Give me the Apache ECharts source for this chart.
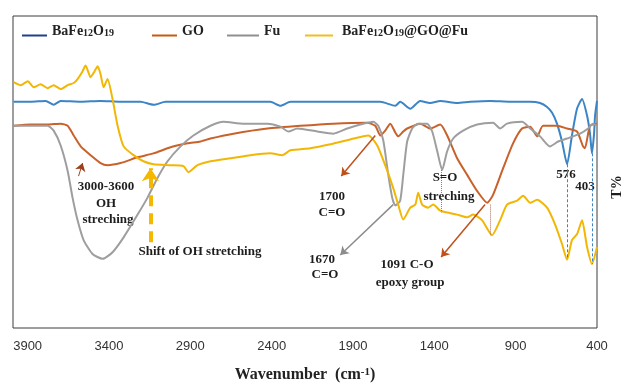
<!DOCTYPE html>
<html>
<head>
<meta charset="utf-8">
<script src="https://cdn.jsdelivr.net/npm/echarts@6/dist/echarts.min.js"></script>
<style>
  html, body { margin: 0; padding: 0; background: #fff; }
  #chart { width: 625px; height: 388px; }
</style>
</head>
<body>
<div id="chart"></div>
<script>
// FTIR spectra: [wavenumber (cm-1), transmittance (a.u.)]
var bafeData = [
  [3986, 71.7], [3881, 71.7], [3789, 72.0], [3740, 70.7], [3697, 72.0], [3574, 71.7],
  [3452, 72.0], [3329, 71.7], [3206, 71.7], [3126, 70.7], [3052, 71.7], [2838, 71.7],
  [2531, 71.7], [2408, 71.7], [2346, 70.4], [2285, 71.7], [2039, 71.7], [1732, 71.7],
  [1640, 70.4], [1610, 71.7], [1548, 69.4], [1487, 72.0], [1425, 71.3], [1364, 72.0],
  [1260, 71.3], [1180, 71.7], [1057, 72.0], [934, 71.7], [811, 71.7], [750, 71.3],
  [707, 70.0], [676, 68.1], [646, 64.5], [615, 58.6], [584, 51.1], [554, 60.6],
  [523, 69.4], [492, 72.6], [461, 67.1], [443, 61.2], [431, 54.7], [418, 61.2],
  [412, 67.1], [400, 72.0]
];
var goData = [
  [3986, 63.8], [3881, 64.2], [3777, 64.2], [3697, 64.5], [3654, 63.8], [3617, 60.6],
  [3574, 57.0], [3513, 54.1], [3452, 51.5], [3409, 50.8], [3329, 51.5], [3224, 53.4],
  [3126, 54.7], [3022, 56.7], [2917, 58.0], [2838, 58.6], [2776, 59.6], [2635, 61.2],
  [2426, 62.9], [2224, 63.8], [2021, 64.5], [1812, 64.8], [1763, 63.8], [1732, 60.6],
  [1702, 62.2], [1671, 64.5], [1640, 61.6], [1622, 60.3], [1591, 61.9], [1567, 62.9],
  [1487, 64.5], [1425, 62.9], [1364, 64.2], [1321, 60.6], [1260, 53.1], [1198, 47.6],
  [1137, 42.3], [1075, 38.4], [1039, 41.0], [977, 49.8], [916, 58.0], [861, 62.9],
  [811, 63.5], [768, 60.3], [732, 63.8], [646, 63.8], [584, 62.9], [523, 61.9],
  [486, 57.0], [474, 56.4], [443, 63.8], [400, 64.5]
];
var fuData = [
  [3986, 63.8], [3881, 63.8], [3777, 63.8], [3740, 62.2], [3697, 57.3], [3654, 48.9],
  [3624, 40.1], [3593, 32.6], [3556, 26.1], [3501, 21.5], [3439, 19.9], [3378, 22.1],
  [3310, 27.0], [3224, 34.5], [3163, 40.1], [3102, 46.6], [3040, 52.1], [2960, 57.0],
  [2881, 60.6], [2776, 63.8], [2696, 65.1], [2574, 64.5], [2426, 64.5], [2346, 63.5],
  [2297, 61.9], [2242, 62.9], [2119, 61.9], [2021, 61.2], [1935, 62.9], [1855, 64.2],
  [1775, 65.1], [1745, 63.8], [1714, 59.0], [1683, 47.6], [1659, 40.1], [1640, 37.5],
  [1610, 39.1], [1591, 47.6], [1567, 58.6], [1536, 62.9], [1499, 64.5], [1444, 64.5],
  [1413, 61.9], [1382, 55.4], [1352, 49.2], [1321, 55.4], [1284, 59.6], [1223, 62.2],
  [1137, 64.2], [1039, 64.8], [996, 62.9], [953, 64.5], [861, 65.1], [811, 62.9],
  [750, 60.3], [689, 57.0], [639, 58.6], [584, 59.6], [504, 61.2], [455, 62.9],
  [425, 64.5], [400, 63.8]
];
var compData = [
  [3986, 78.2], [3943, 77.2], [3899, 78.5], [3863, 76.5], [3820, 77.5], [3777, 76.2],
  [3740, 77.2], [3697, 75.9], [3654, 77.2], [3617, 77.9], [3593, 79.2], [3562, 81.8],
  [3544, 83.7], [3513, 79.8], [3488, 81.8], [3470, 83.4], [3452, 80.9], [3433, 76.5],
  [3409, 79.2], [3378, 72.6], [3347, 63.8], [3310, 57.0], [3249, 54.1], [3188, 52.1],
  [3126, 51.1], [3022, 50.8], [2942, 50.5], [2911, 48.5], [2856, 50.8], [2776, 52.1],
  [2653, 53.1], [2531, 54.1], [2408, 54.7], [2334, 54.1], [2285, 55.7], [2162, 56.4],
  [2039, 57.7], [1917, 59.3], [1806, 60.6], [1751, 57.3], [1689, 48.9], [1653, 43.3],
  [1622, 37.8], [1591, 32.9], [1548, 36.8], [1517, 37.8], [1499, 41.7], [1475, 37.8],
  [1438, 36.8], [1407, 37.8], [1364, 35.8], [1321, 35.2], [1260, 34.5], [1198, 33.6],
  [1161, 34.5], [1106, 32.6], [1045, 27.7], [996, 32.6], [953, 37.8], [891, 39.1],
  [854, 40.7], [811, 38.4], [768, 39.4], [707, 36.8], [658, 31.3], [615, 24.8],
  [584, 19.6], [554, 26.1], [523, 28.0], [492, 32.6], [461, 23.8], [431, 18.2],
  [400, 23.8]
];
var seriesNames = ['BaFe12O19', 'GO', 'Fu', 'BaFe12O19@GO@Fu'];
var tickValues = [400, 900, 1400, 1900, 2400, 2900, 3400, 3900];

var serif = '"Liberation Serif", "Times New Roman", serif';
var chart = echarts.init(document.getElementById('chart'));

function legendText(name) {
  return name.replace(/Fe12O19/, 'Fe{s|12}O{s|19}');
}
function oneLegend(name, left, color, w, padLeft) {
  return {
    left: left, top: 19, data: [{ name: name, itemStyle: { color: color } }],
    icon: 'rect', itemWidth: w, itemHeight: 2, selectedMode: false,
    formatter: legendText,
    textStyle: {
      fontFamily: serif, fontWeight: 'bold', fontSize: 14, color: '#222',
      padding: [0, 0, 9, padLeft],
      rich: { s: { fontFamily: serif, fontWeight: 'bold', fontSize: 10, color: '#222', verticalAlign: 'bottom' } }
    }
  };
}
// 注释箭头 / 虚线
function marks(color, width, type, arrow, pairs) {
  return {
    type: 'line', data: [], silent: true,
    markLine: {
      silent: true, animation: false,
      symbol: ['none', arrow ? 'arrow' : 'none'], symbolSize: arrow ? (width > 2 ? 13 : 8) : 0,
      label: { show: false },
      lineStyle: { color: color, width: width, type: type },
      emphasis: { disabled: true },
      data: pairs.map(function (p) { return [{ coord: p[0] }, { coord: p[1] }]; })
    }
  };
}
function note(x, y, text) {
  return {
    type: 'text', x: x, y: y, silent: true,
    style: { text: text, font: 'bold 13px ' + serif, fill: '#1e1e1e', align: 'center', verticalAlign: 'middle' }
  };
}

var option = {
  animation: false,
  grid: { left: 13, right: 28, top: 16, bottom: 56, show: true, borderColor: '#3c3c3c', borderWidth: 1 },
  legend: [
    oneLegend(seriesNames[0], 17, '#203f8a', 25, 0),
    oneLegend(seriesNames[1], 147, '#c55a11', 25, 0),
    oneLegend(seriesNames[2], 222, '#8f8f8f', 32, 0),
    oneLegend(seriesNames[3], 300, '#f2bf1a', 28, 4)
  ],
  xAxis: {
    type: 'value', min: 400, max: 3990, inverse: true,
    axisLine: { show: false }, axisTick: { show: false }, splitLine: { show: false },
    axisLabel: {
      customValues: tickValues, margin: 12,
      formatter: function (v) { return String(v); },
      fontFamily: '"Liberation Sans", Arial, sans-serif', fontSize: 13, color: '#333'
    },
    name: 'Wavenumber  (cm{sup|-1})', nameLocation: 'middle', nameGap: 39,
    nameTextStyle: {
      fontFamily: serif, fontWeight: 'bold', fontSize: 16, color: '#222',
      rich: { sup: { fontFamily: serif, fontWeight: 'bold', fontSize: 11, color: '#222', verticalAlign: 'top' } }
    }
  },
  yAxis: {
    type: 'value', min: -2.9, max: 100,
    axisLine: { show: false }, axisTick: { show: false }, axisLabel: { show: false }, splitLine: { show: false }
  },
  series: [
    { name: seriesNames[0], type: 'line', data: bafeData, showSymbol: false, smooth: 0.2, color: '#3b84c6', lineStyle: { width: 2 } },
    { name: seriesNames[1], type: 'line', data: goData, showSymbol: false, smooth: 0.2, color: '#c8612a', lineStyle: { width: 2 } },
    { name: seriesNames[2], type: 'line', data: fuData, showSymbol: false, smooth: 0.2, color: '#9e9e9e', lineStyle: { width: 2 } },
    { name: seriesNames[3], type: 'line', data: compData, showSymbol: false, smooth: 0.2, color: '#f2b705', lineStyle: { width: 2 } },
    marks('#a0401a', 1, 'solid', true, [[[3587, 47.2], [3562, 51.5]]]),
    marks('#c0501a', 1.5, 'solid', true, [[[1763, 60.6], [1972, 47.2]], [[1088, 37.8], [1358, 20.5]]]),
    marks('#8c8c8c', 1.5, 'solid', true, [[[1653, 37.8], [1978, 21.2]]]),
    marks('#f5b800', 4, [11, 7], true, [[[3145, 25.4], [3145, 49.8]]]),
    marks('#b06a5a', 1, 'dotted', false, [[[1358, 49.2], [1358, 35.2]], [[1057, 37.8], [1057, 27.7]]]),
    marks('#3b84c6', 1, [3, 2], false, [[[584, 51.1], [584, 19.9]], [[431, 54.7], [431, 18.2]]])
  ],
  graphic: [
    note(106, 187, '3000-3600'), note(106, 204, 'OH'), note(108, 220, 'streching'),
    note(200, 252, 'Shift of OH stretching'),
    note(332, 197, '1700'), note(332, 213, 'C=O'),
    note(322, 260, '1670'), note(325, 275, 'C=O'),
    note(445, 178, 'S=O'), note(449, 197, 'streching'),
    note(407, 265, '1091 C-O'), note(410, 283, 'epoxy group'),
    note(566, 175, '576'), note(585, 187, '403'),
    {
      type: 'text', x: 617, y: 187, rotation: Math.PI / 2, silent: true,
      style: { text: 'T%', font: 'bold 14px ' + serif, fill: '#1e1e1e', align: 'center', verticalAlign: 'middle' }
    }
  ]
};
chart.setOption(option);
</script>
</body>
</html>
